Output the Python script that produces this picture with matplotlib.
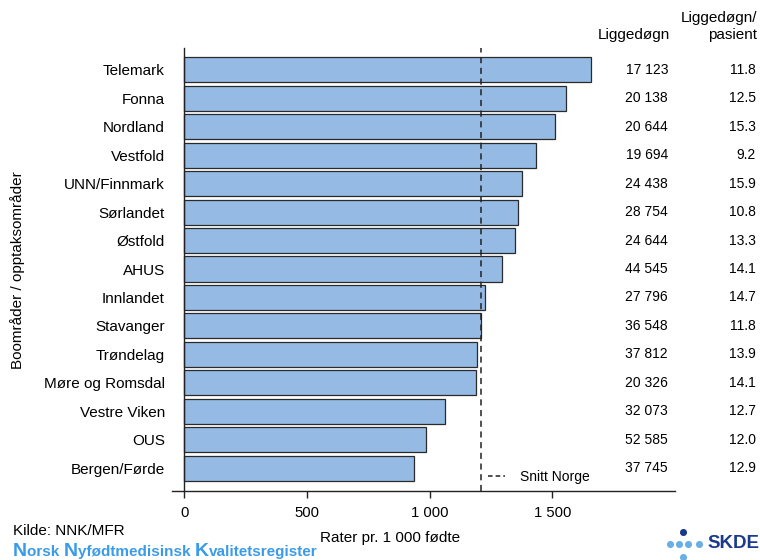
import matplotlib
matplotlib.use("Agg")
import matplotlib.pyplot as plt
from matplotlib.lines import Line2D
from matplotlib.transforms import blended_transform_factory
import numpy as np

plt.rcParams['font.family'] = ['Liberation Sans', 'DejaVu Sans']

categories = ["Telemark", "Fonna", "Nordland", "Vestfold", "UNN/Finnmark", "Sørlandet",
              "Østfold", "AHUS", "Innlandet", "Stavanger", "Trøndelag", "Møre og Romsdal",
              "Vestre Viken", "OUS", "Bergen/Førde"]
rates = [1658, 1555, 1512, 1433, 1376, 1362, 1348, 1294, 1227, 1211, 1195, 1187, 1064, 987, 935]
liggedogn = ["17 123", "20 138", "20 644", "19 694", "24 438", "28 754", "24 644", "44 545",
             "27 796", "36 548", "37 812", "20 326", "32 073", "52 585", "37 745"]
per_pasient = ["11.8", "12.5", "15.3", "9.2", "15.9", "10.8", "13.3", "14.1", "14.7", "11.8",
               "13.9", "14.1", "12.7", "12.0", "12.9"]
snitt_norge = 1209
xticks = [0, 500, 1000, 1500]
xticklabels = ["0", "500", "1 000", "1 500"]

W, H = 760, 560
fig = plt.figure(figsize=(W / 100, H / 100), dpi=100)
ax = fig.add_axes([172 / W, 1 - 490.7 / H, (675 - 172) / W, (490.7 - 48.3) / H])

y = np.arange(len(categories))
ax.barh(y, rates, height=0.88, color="#95BBE5", edgecolor="#2a2a2a", linewidth=0.9, zorder=2)
ax.axvline(snitt_norge, color="#222222", linestyle=(0, (4, 3)), linewidth=1.1, zorder=3)

ax.set_xlim(-50, 2000)
ax.set_ylim(14.79, -0.755)
ax.set_yticks(y)
ax.set_yticklabels(categories)
ax.tick_params(axis='y', length=0, pad=14, labelsize=11)
ax.set_xticks(xticks)
ax.set_xticklabels(xticklabels)
ax.tick_params(axis='x', length=5, width=1, pad=6, color="#222222", labelsize=10.7)

for s in ["top", "right"]:
    ax.spines[s].set_visible(False)
ax.spines["left"].set_position(("data", 0))
ax.spines["left"].set_linewidth(1.0)
ax.spines["bottom"].set_linewidth(1.0)
ax.spines["left"].set_color("#222222")
ax.spines["bottom"].set_color("#222222")

ax.set_xlabel("Rater pr. 1 000 fødte", fontsize=11)
ax.xaxis.set_label_coords((390 - 172) / (675 - 172), -0.092)
fig.text(18 / W, 1 - 270 / H, "Boområder / opptaksområder", rotation=90,
         fontsize=11, ha="center", va="center")

trans = blended_transform_factory(fig.transFigure, ax.transData)
for i in range(len(categories)):
    fig.text(668 / W, y[i], liggedogn[i], transform=trans, ha="right", va="center", fontsize=10)
    fig.text(756 / W, y[i], per_pasient[i], transform=trans, ha="right", va="center", fontsize=10)

fig.text(670 / W, 1 - 35 / H, "Liggedøgn", ha="right", va="center", fontsize=11)
fig.text(757 / W, 1 - 18 / H, "Liggedøgn/", ha="right", va="center", fontsize=11)
fig.text(757 / W, 1 - 35 / H, "pasient", ha="right", va="center", fontsize=11)

leg = ax.legend([Line2D([0], [0], color="#222222", linestyle=(0, (3, 2)), linewidth=1.1)],
                ["Snitt Norge"], loc="center left",
                bbox_to_anchor=((488 - 172) / (675 - 172), (490.7 - 477) / (490.7 - 48.3)),
                frameon=False, fontsize=10, handlelength=1.2, handletextpad=1.1,
                borderaxespad=0, borderpad=0)

fig.text(13 / W, 1 - 531 / H, "Kilde: NNK/MFR", ha="left", va="center", fontsize=11)

# Registry name with enlarged capitals
renderer = fig.canvas.get_renderer()
parts = [("N", 14), ("orsk ", 11), ("N", 14), ("yfødtmedisinsk ", 11),
         ("K", 14), ("valitetsregister", 11)]
xpos = 13
blue = "#3A9BE8"
for txt, fs in parts:
    t = fig.text(xpos / W, 1 - 556 / H, txt, ha="left", va="baseline", fontsize=fs,
                 fontweight="bold", color=blue)
    bb = t.get_window_extent(renderer=renderer)
    xpos += bb.width

# SKDE logo
logo_ax = fig.add_axes([0, 0, 1, 1], facecolor="none")
logo_ax.set_xlim(0, W)
logo_ax.set_ylim(H, 0)
logo_ax.axis("off")
logo_ax.scatter([683], [532], s=26, color="#1B3A8C", zorder=5, linewidths=0)
logo_ax.scatter([670, 679, 688, 699], [544] * 4, s=26, color="#6AAEE6", zorder=5, linewidths=0)
logo_ax.scatter([683], [557], s=26, color="#6AAEE6", zorder=5, linewidths=0)
fig.text(707 / W, 1 - 544 / H, "SKDE", ha="left", va="center", fontsize=13.5,
         fontweight="bold", color="#1B3A8C")

fig.savefig("out.png", dpi=100)
